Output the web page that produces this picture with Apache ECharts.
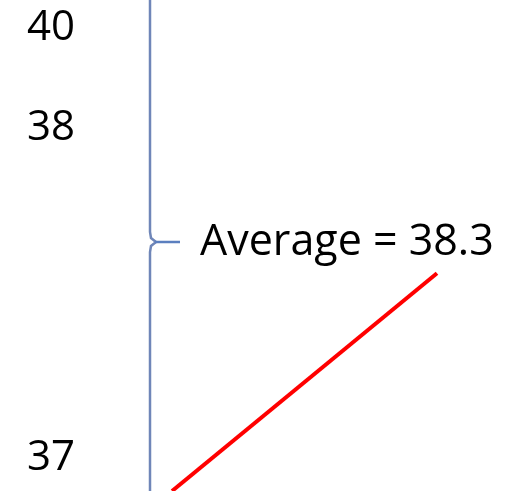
<!DOCTYPE html>
<html>
<head>
<meta charset="utf-8">
<script src="https://cdn.jsdelivr.net/npm/echarts@6/dist/echarts.min.js"></script>
<style>
  html, body { margin: 0; padding: 0; background: #fff; }
  #chart { width: 513px; height: 491px; }
</style>
</head>
<body>
<div id="chart"></div>
<script>
// Tick labels shown on the vertical scale
const tickValues = [37, 38, 40];
// Trend line end points (x in arbitrary units, y in scale units)
const trendX = [0.63, 8.2];
const trendY = [36.9, 37.56];
// Annotation
const averageValue = 38.3;
const averageText = 'Average = ' + averageValue;

const chart = echarts.init(document.getElementById('chart'), null, { renderer: 'canvas' });

const axisColor = '#6f86b8';
const font = '"Open Sans", "Noto Sans", sans-serif';

chart.setOption({
  animation: false,
  backgroundColor: '#ffffff',
  grid: { left: 150, right: 13, top: 0, bottom: 0, containLabel: false },
  xAxis: { type: 'value', min: 0, max: 10, show: false },
  yAxis: {
    type: 'value',
    min: 36.9,
    max: 40.085,
    breaks: [{ start: 38.05, end: 39.95, gap: '13.65%' }],
    breakArea: { show: false },
    axisLine: { show: false },
    axisTick: { show: false },
    splitLine: { show: false },
    axisLabel: {
      customValues: tickValues,
      margin: 75,
      color: '#000',
      fontSize: 42,
      fontFamily: font,
      formatter: v => String(v)
    }
  },
  series: [{
    type: 'line',
    data: trendX.map((x, i) => [x, trendY[i]]),
    symbol: 'none',
    lineStyle: { color: '#ff0000', width: 4 },
    clip: true
  }],
  graphic: [
    // continuous vertical scale line with a brace notch
    {
      type: 'polyline',
      shape: { points: [[150, 0], [150, 232], [151, 238], [156, 242], [151, 246], [150, 252], [150, 491]] },
      style: { stroke: axisColor, lineWidth: 2.5, fill: null },
      z: 100
    },
    {
      type: 'line',
      shape: { x1: 155, y1: 242, x2: 180, y2: 242 },
      style: { stroke: '#5b7fbf', lineWidth: 2.5 },
      z: 100
    },
    {
      type: 'text',
      x: 200,
      y: 243,
      style: {
        text: averageText,
        fill: '#000',
        font: '43px ' + font,
        verticalAlign: 'middle',
        align: 'left'
      },
      z: 100
    }
  ]
});
</script>
</body>
</html>
